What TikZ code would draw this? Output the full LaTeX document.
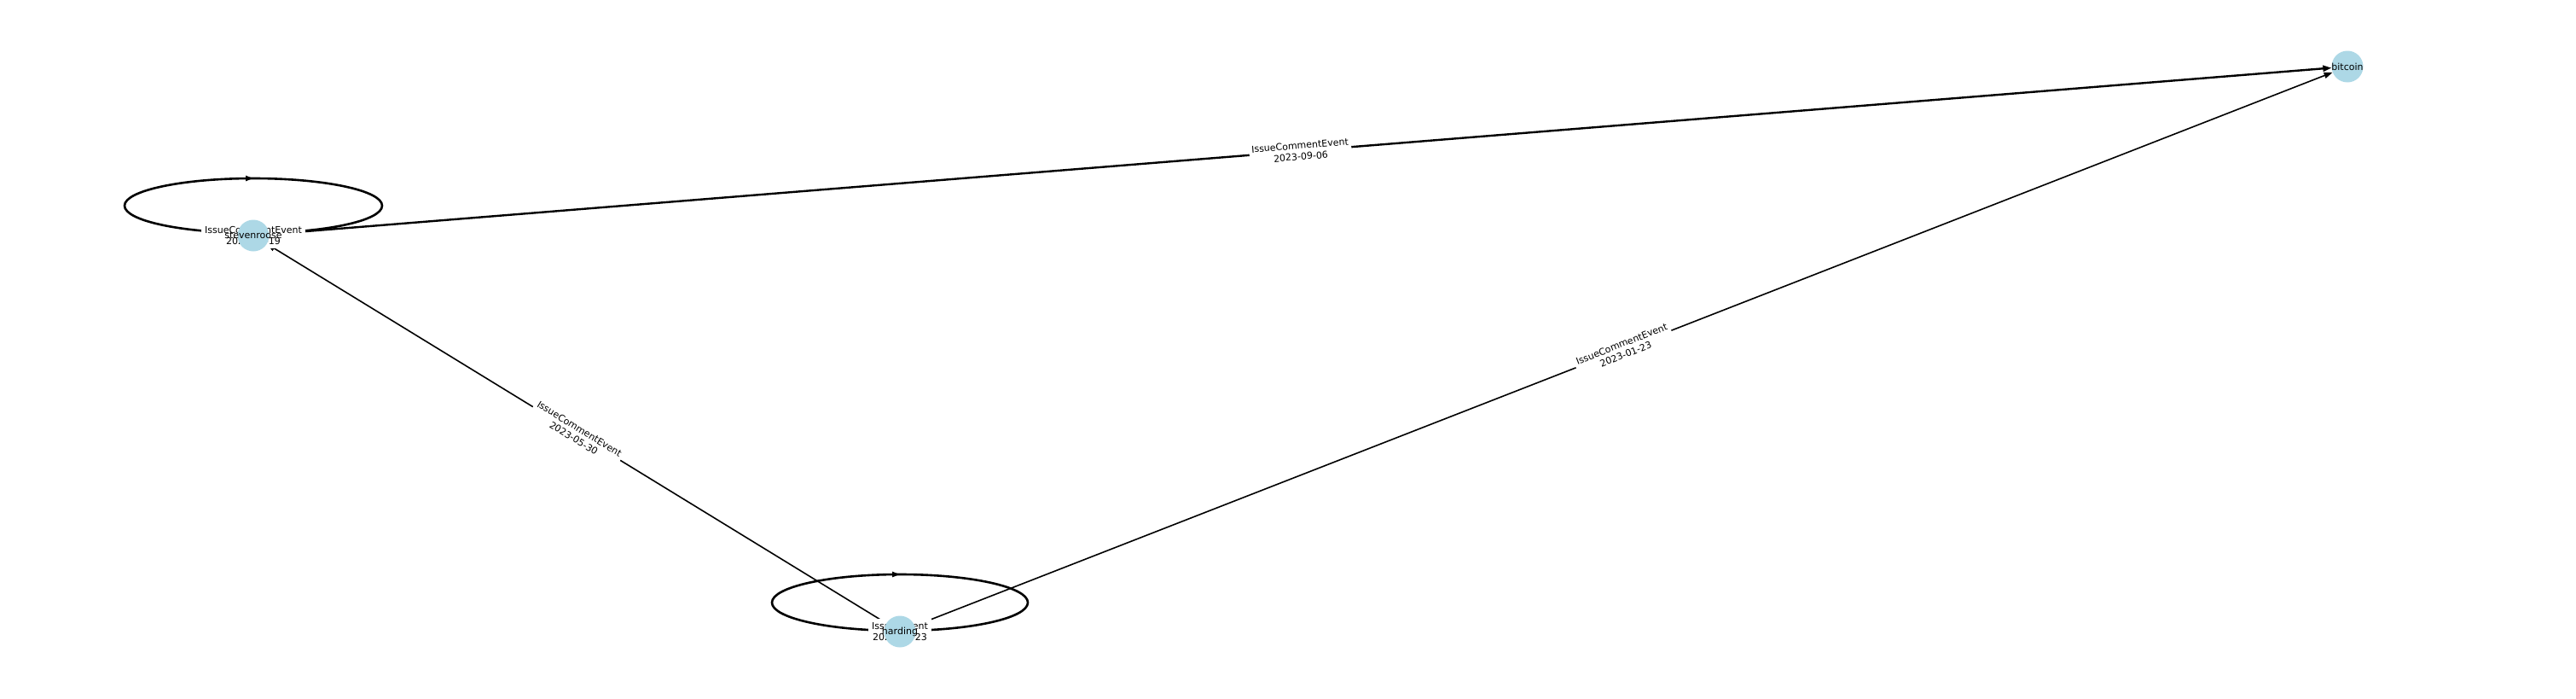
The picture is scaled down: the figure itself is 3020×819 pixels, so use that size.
\documentclass[tikz,border=0pt]{standalone}
\usepackage{fontspec}
\setmainfont{DejaVu Sans}
\usetikzlibrary{arrows.meta,decorations.markings,backgrounds}
\definecolor{nodeblue}{RGB}{173,216,230}

\begin{document}
\begin{tikzpicture}[x=1pt,y=-1pt,
  user/.style={circle,fill=nodeblue,minimum size=37pt,inner sep=0pt,
    label={[font=\fontsize{11}{13}\selectfont,inner sep=0pt]center:#1}},
  evlabel/.style={fill=white,inner sep=3pt,align=center,font=\fontsize{11}{13}\selectfont},
  link/.style={line width=1.6pt,-{Triangle[length=10pt,width=7pt]}},
  selfloop/.style={line width=2.6pt,postaction={decorate},
    decoration={markings,mark=at position 0.5 with {\arrow{Triangle[length=9pt,width=6pt]}}}}]
  \useasboundingbox (0,0) rectangle (3020,819);
  \node[user=stevenroose] (steven) at (297,276) {};
  \node[user=harding] (harding) at (1055,740) {};
  \node[user=bitcoin] (bitcoin) at (2752,78) {};
  \begin{scope}[on background layer]
    \draw[selfloop] ([yshift=3pt]steven.center) arc[start angle=-90,delta angle=-360,x radius=151pt,y radius=32pt];
    \draw[selfloop] ([yshift=1pt]harding.center) arc[start angle=-90,delta angle=-360,x radius=150pt,y radius=33pt];
    \draw[link,line width=2.4pt] (steven) -- node[evlabel,sloped] (lbla) {IssueCommentEvent\\2023-09-06} (bitcoin);
    \draw[link] (harding) -- node[evlabel,sloped] (lblb) {IssueCommentEvent\\2023-01-23} (bitcoin);
    \draw[link] (harding) -- node[evlabel,sloped] (lblc) {IssueCommentEvent\\2023-05-30} (steven);
    \node[evlabel,inner sep=4pt] (loopa) at (steven.center) {IssueCommentEvent\\2023-08-19};
    \node[evlabel,inner sep=4pt] (loopb) at (harding.center) {IssuesEvent\\2023-02-23};
  \end{scope}
\end{tikzpicture}
\end{document}
